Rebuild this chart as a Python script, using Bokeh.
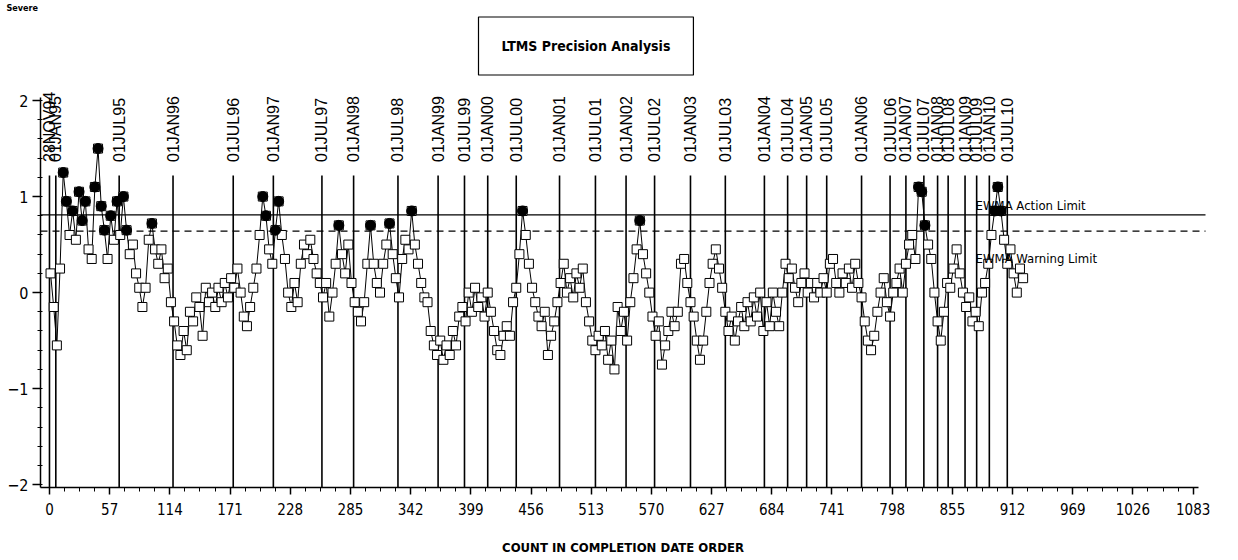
from math import pi
from bokeh.plotting import figure
from bokeh.models import FixedTicker, Title
from bokeh.embed import file_html
from bokeh.resources import INLINE
from bokeh.core.properties import value

# ---------------- data ----------------
ACTION_LIMIT = 0.81
WARNING_LIMIT = 0.64

ewma = [
    0.2, -0.15, -0.55, 0.25,
    1.25, 0.95, 0.6, 0.85, 0.55, 1.05, 0.75, 0.95, 0.45, 0.35,
    1.1, 1.5, 0.9, 0.65, 0.35, 0.8, 0.55, 0.95, 0.6, 1.0,
    0.65, 0.4, 0.5, 0.2, 0.05, -0.15, 0.05, 0.55, 0.72, 0.45,
    0.3, 0.45, 0.15, 0.25, -0.1, -0.3, -0.55, -0.65, -0.4, -0.6,
    -0.2, -0.3, -0.05, -0.15, -0.45, 0.05, -0.1, 0.0, -0.15, 0.05,
    -0.1, 0.1, -0.05, 0.15, 0.05, 0.25, 0.0, -0.25, -0.35, -0.15,
    0.05, 0.25, 0.6, 1.0, 0.8, 0.45, 0.3, 0.65, 0.95, 0.6,
    0.35, 0.0, -0.15, 0.1, -0.1, 0.3, 0.5, 0.4, 0.55, 0.35,
    0.2, 0.1, -0.05, 0.1, -0.25, 0.0, 0.3, 0.7, 0.4, 0.2,
    0.5, 0.1, -0.1, -0.2, -0.3, -0.1, 0.3, 0.7, 0.3, 0.1,
    0.0, 0.3, 0.5, 0.72, 0.4, 0.15, -0.05, 0.35, 0.55, 0.45,
    0.85, 0.5, 0.3, 0.1, -0.05, -0.1, -0.4, -0.55, -0.65, -0.5,
    -0.7, -0.55, -0.65, -0.4, -0.55, -0.25, -0.15, -0.3, 0.0, -0.2,
    0.05, -0.15, -0.05, -0.25, 0.0, -0.2, -0.4, -0.6, -0.65, -0.45,
    -0.35, -0.45, -0.1, 0.05, 0.4, 0.85, 0.6, 0.3, 0.05, -0.1,
    -0.25, -0.35, -0.2, -0.65, -0.45, -0.3, -0.1, 0.1, 0.3, 0.0,
    0.15, -0.05, 0.2, 0.05, 0.25, -0.1, -0.3, -0.5, -0.6, -0.45,
    -0.55, -0.4, -0.7, -0.5, -0.8, -0.15, -0.4, -0.2, -0.5, -0.1,
    0.15, 0.45, 0.75, 0.4, 0.2, 0.0, -0.25, -0.45, -0.3, -0.75,
    -0.55, -0.4, -0.2, -0.35, -0.2, 0.3, 0.35, 0.1, -0.1, -0.25,
    -0.5, -0.7, -0.5, -0.2, 0.1, 0.3, 0.45, 0.25, 0.05, -0.2,
    -0.4, -0.25, -0.5, -0.3, -0.15, -0.35, -0.1, -0.3, -0.05, -0.25,
    0.0, -0.4, -0.1, -0.35, 0.0, -0.2, -0.35, 0.0, 0.3, 0.15,
    0.25, 0.05, -0.1, 0.1, 0.2, 0.0, 0.1, -0.05, 0.1, 0.0,
    0.15, 0.0, 0.3, 0.35, 0.1, 0.0, 0.2, 0.1, 0.25, 0.05,
    0.3, 0.1, -0.05, -0.3, -0.5, -0.6, -0.45, -0.2, 0.0, 0.15,
    -0.1, -0.25, 0.0, 0.1, 0.25, 0.0, 0.3, 0.5, 0.6, 0.35,
    1.1, 1.05, 0.7, 0.5, 0.35, 0.0, -0.3, -0.5, -0.2, 0.1,
    0.05, 0.25, 0.45, 0.2, 0.0, -0.15, -0.05, -0.3, -0.2, -0.35,
    0.0, 0.1, 0.3, 0.6, 0.85, 1.1, 0.85, 0.55, 0.3, 0.45,
    0.2, 0.0, 0.25, 0.15,
]
count = [1 + 3 * i for i in range(len(ewma))]

date_labels = ["28NOV94", "01JAN95", "01JUL95", "01JAN96", "01JUL96", "01JAN97",
               "01JUL97", "01JAN98", "01JUL98", "01JAN99", "01JUL99", "01JAN00",
               "01JUL00", "01JAN01", "01JUL01", "01JAN02", "01JUL02", "01JAN03",
               "01JUL03", "01JAN04", "01JUL04", "01JAN05", "01JUL05", "01JAN06",
               "01JUL06", "01JAN07", "01JUL07", "01JAN08", "01JUL08", "01JAN09",
               "01JUL09", "01JAN10", "01JUL10"]
date_pos = [0, 6, 66, 117, 174, 212, 258, 288, 330, 368, 393, 415, 442, 483, 517,
            546, 573, 607, 640, 677, 699, 717, 736, 769, 796, 811, 828, 841, 851,
            867, 878, 890, 907]

x_ticks = [0, 57, 114, 171, 228, 285, 342, 399, 456, 513, 570, 627, 684, 741,
           798, 855, 912, 969, 1026, 1083]
y_ticks = [-2, -1, 0, 1, 2]

# ---------------- figure ----------------
NARROW = "DejaVu Sans Condensed"

p = figure(width=1238, height=560, x_range=(-8.5, 1094.7), y_range=(-2.03, 2.24),
           output_backend="svg", toolbar_location=None,
           min_border_left=40, min_border_right=33, min_border_top=0, min_border_bottom=73)
p.outline_line_color = None
p.xgrid.visible = False
p.ygrid.visible = False
p.background_fill_color = "white"
p.border_fill_color = "white"

# corner label (outermost title row)
p.title.text = "Severe"
p.title.align = "left"
p.title.offset = -34
p.title.text_font = NARROW
p.title.text_font_style = "bold"
p.title.text_font_size = "9px"
p.title.text_color = "black"
p.title.standoff = 0

# boxed main title (closer to the frame)
p.add_layout(Title(text="LTMS Precision Analysis", align="left", offset=438,
                   text_font=NARROW, text_font_style="bold", text_font_size="14px",
                   text_color="black", border_line_color="black", border_line_width=1.2,
                   background_fill_color="white", padding=(23, 21), standoff=5), "above")

# date reference lines and labels
n = len(date_pos)
p.segment(x0=date_pos, y0=[-2.03] * n, x1=date_pos, y1=[1.22] * n,
          line_color="black", line_width=1.6)
p.text(x=date_pos, y=[1.36] * n, text=date_labels, angle=pi / 2,
       text_align="left", text_baseline="middle",
       text_font=value("Liberation Sans"), text_font_size="16px", text_color="black")

# limit lines
p.line([-8.5, 1100], [ACTION_LIMIT, ACTION_LIMIT], line_color="black", line_width=1.3)
p.line([-8.5, 1100], [WARNING_LIMIT, WARNING_LIMIT], line_color="black", line_width=1.3,
       line_dash="7 5")

# EWMA series
p.line(count, ewma, line_color="black", line_width=1)
p.scatter(count, ewma, marker="square", size=9, fill_color="white",
          line_color="black", line_width=1)
hx = [c for c, v in zip(count, ewma) if v > WARNING_LIMIT]
hy = [v for v in ewma if v > WARNING_LIMIT]
p.scatter(hx, hy, marker="circle", size=10, fill_color="black", line_color="black")

p.text(x=[877], y=[0.91], text=["EWMA Action Limit"], text_align="left",
       text_baseline="middle", text_font=value(NARROW), text_font_size="13px")
p.text(x=[877], y=[0.36], text=["EWMA Warning Limit"], text_align="left",
       text_baseline="middle", text_font=value(NARROW), text_font_size="13px")

# axes
xa = p.xaxis[0]
xa.ticker = FixedTicker(ticks=x_ticks, minor_ticks=[57 * k / 4 for k in range(0, 77)])
xa.bounds = (-8.5, 1088)
xa.axis_label = "COUNT IN COMPLETION DATE ORDER"
xa.axis_label_text_font = NARROW
xa.axis_label_text_font_style = "bold"
xa.axis_label_text_font_size = "13px"
xa.axis_label_standoff = 22
xa.major_label_text_font = NARROW
xa.major_label_text_font_size = "15px"
xa.major_label_standoff = 8
xa.major_tick_out = 7
xa.major_tick_in = 0
xa.minor_tick_out = 4
xa.minor_tick_in = 0

ya = p.yaxis[0]
ya.ticker = FixedTicker(ticks=y_ticks, minor_ticks=[round(-2 + 0.2 * k, 1) for k in range(21)])
ya.bounds = (-2.03, 2.03)
ya.major_label_text_font = NARROW
ya.major_label_text_font_size = "16px"
ya.major_label_standoff = 4
ya.major_tick_out = 8
ya.major_tick_in = 0
ya.minor_tick_out = 3
ya.minor_tick_in = 2

for ax in (xa, ya):
    ax.axis_line_color = "black"
    ax.axis_line_width = 1.5
    ax.major_tick_line_color = "black"
    ax.major_tick_line_width = 1.5
    ax.minor_tick_line_color = "black"
    ax.major_label_text_color = "black"
    ax.axis_label_text_color = "black"

open("out.html", "w").write(file_html(p, INLINE))
